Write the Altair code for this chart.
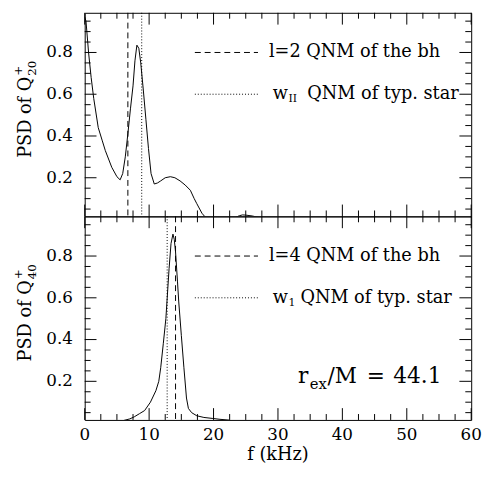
import altair as alt
import pandas as pd

# ---------------- data ----------------
f_top = [0, 0.2, 0.6, 1.0, 1.4, 2.1, 2.7, 3.2, 4.2, 5.0, 5.5, 5.9, 6.3, 6.7, 7.1, 7.5,
         7.8, 8.1, 8.4, 8.7, 9.1, 9.5, 9.9, 10.3, 10.8, 11.3, 11.8, 12.5, 13.3, 14.0,
         14.8, 15.6, 16.4, 17.0, 17.4, 18.2, 18.7, 19.5, 21, 23, 24, 24.5, 25, 26, 27, 28, 30]
psd_top = [0.97, 0.95, 0.80, 0.68, 0.58, 0.44, 0.38, 0.33, 0.25, 0.205, 0.19, 0.22, 0.30,
           0.41, 0.53, 0.64, 0.76, 0.835, 0.82, 0.75, 0.62, 0.48, 0.34, 0.22, 0.17, 0.175,
           0.185, 0.20, 0.205, 0.20, 0.185, 0.165, 0.14, 0.10, 0.076, 0.03, 0.012, 0.0,
           0.0, 0.005, 0.018, 0.022, 0.021, 0.017, 0.01, 0.0, 0.0]

f_bot = [0, 5.5, 6.0, 7.0, 7.7, 8.5, 9.3, 10.2, 11.05, 11.5, 11.8, 12.2, 12.6, 13.1, 13.4,
         13.7, 13.9, 14.1, 14.4, 14.6, 15.0, 15.4, 15.8, 16.1, 16.6, 17.4, 18.5, 19.9, 21.0, 22.5]
psd_bot = [0.0, 0.005, 0.012, 0.02, 0.03, 0.045, 0.06, 0.10, 0.155, 0.20, 0.265, 0.38, 0.50,
           0.74, 0.86, 0.905, 0.88, 0.82, 0.68, 0.58, 0.42, 0.265, 0.12, 0.07, 0.05, 0.035,
           0.027, 0.022, 0.018, 0.014]

qnm_top_f = [6.7, 8.85]
qnm_bot_f = [14.1, 12.8]
qnm_styles = ["dashed", "dotted"]

legend_y = [0.8, 0.6]
legend_x1 = [17.1, 17.1]
legend_x2 = [26.9, 26.9]
legend_text_x = 28.6

top_bh_label = "l=2 QNM of the bh"
bot_bh_label = "l=4 QNM of the bh"
star_label = "QNM of typ. star"
top_star_sub = "II"
bot_star_sub = "1"

rex_x, rex_y = 33.1, 0.19
rex_parts = ["r", "ex", "/M", "=", "44.1"]

x_major = [0, 10, 20, 30, 40, 50, 60]
x_major_labels = ["0", "10", "20", "30", "40", "50", "60"]
x_minor = [2.5, 5, 7.5, 12.5, 15, 17.5, 22.5, 25, 27.5, 32.5, 35, 37.5,
           42.5, 45, 47.5, 52.5, 55, 57.5]
y_major = [0.2, 0.4, 0.6, 0.8]
y_major_labels = ["0.2", "0.4", "0.6", "0.8"]
y_minor = [0.05, 0.1, 0.15, 0.25, 0.3, 0.35, 0.45, 0.5, 0.55, 0.65, 0.7, 0.75,
           0.85, 0.9, 0.95]
x_title = "f (kHz)"
y_title_main = "PSD of Q"

# ---------------- layout / style ----------------
W, H = 393, 207
FONT = "DejaVu Serif"
XDOM = [0, 60]
YDOM = [0.015, 0.99]
MAJ, MIN = 12, 6  # tick lengths in pixels
xs = alt.Scale(domain=XDOM, nice=False, zero=False)
ys = alt.Scale(domain=YDOM, nice=False, zero=False)
dash_scale = alt.Scale(domain=["dashed", "dotted"], range=[[6, 4], [1, 2]])


def rule_tick_layers():
    out = []
    for vals, L in ((x_major, MAJ), (x_minor, MIN)):
        base = alt.Chart(pd.DataFrame({"rv": vals})).mark_rule(color="black", strokeWidth=1)
        out.append(base.encode(x=alt.X("rv:Q", scale=xs, axis=None),
                               y=alt.value(H), y2=alt.value(H - L)))
        out.append(base.encode(x=alt.X("rv:Q", scale=xs, axis=None),
                               y=alt.value(0), y2=alt.value(L)))
    for vals, L in ((y_major, MAJ), (y_minor, MIN)):
        base = alt.Chart(pd.DataFrame({"rw": vals})).mark_rule(color="black", strokeWidth=1)
        out.append(base.encode(y=alt.Y("rw:Q", scale=ys, axis=None),
                               x=alt.value(0), x2=alt.value(L)))
        out.append(base.encode(y=alt.Y("rw:Q", scale=ys, axis=None),
                               x=alt.value(W), x2=alt.value(W - L)))
    return out


def label_layers(bottom):
    out = []
    dy_ = pd.DataFrame({"lv": y_major, "lt": y_major_labels})
    out.append(alt.Chart(dy_).mark_text(font=FONT, fontSize=17, color="black",
                                        align="right", baseline="middle", dx=-12).encode(
        y=alt.Y("lv:Q", scale=ys, axis=None), x=alt.value(0), text="lt:N"))
    if bottom:
        dx_ = pd.DataFrame({"lv": x_major, "lt": x_major_labels})
        out.append(alt.Chart(dx_).mark_text(font=FONT, fontSize=17, color="black",
                                            align="center", baseline="middle", dy=15).encode(
            x=alt.X("lv:Q", scale=xs, axis=None), y=alt.value(H), text="lt:N"))
        out.append(alt.Chart(pd.DataFrame({"k": [0]})).mark_text(
            font=FONT, fontSize=18, color="black", align="center", baseline="middle",
            text=x_title, dy=36).encode(x=alt.value(W / 2), y=alt.value(H)))
    return out


def text_layer(df, text, size, dx=0, dy=0, align="left", baseline="middle"):
    return alt.Chart(df).mark_text(font=FONT, fontSize=size, color="black", align=align,
                                   baseline=baseline, dx=dx, dy=dy, text=text).encode(
        x=alt.X("x:Q", scale=xs, axis=None),
        y=alt.Y("y:Q", scale=ys, axis=None))


def ytitle_layers(sub):
    d = pd.DataFrame({"k": [0]})
    common = dict(font=FONT, color="black", angle=270, baseline="alphabetic")
    main = alt.Chart(d).mark_text(fontSize=18, align="right", text=y_title_main,
                                  **common).encode(x=alt.value(-55), y=alt.value(65))
    s = alt.Chart(d).mark_text(fontSize=12, align="left", dx=1, dy=5, text=sub,
                               **common).encode(x=alt.value(-55), y=alt.value(65))
    p = alt.Chart(d).mark_text(fontSize=12, align="left", dx=1, dy=-9, text="+",
                               **common).encode(x=alt.value(-55), y=alt.value(65))
    return [main, s, p]


def panel(f, psd, qnm_f, bh_label, star_sub, sub_dx, star_dx, ysub, bottom):
    curve = alt.Chart(pd.DataFrame({"f": f, "psd": psd})).mark_line(
        color="black", strokeWidth=1, clip=True).encode(
        x=alt.X("f:Q", scale=xs, axis=None),
        y=alt.Y("psd:Q", scale=ys, axis=None))

    vlines = alt.Chart(pd.DataFrame({"f": qnm_f, "style": qnm_styles})).mark_rule(
        color="black", strokeWidth=1).encode(
        x=alt.X("f:Q", scale=xs, axis=None),
        y=alt.value(0), y2=alt.value(H),
        strokeDash=alt.StrokeDash("style:N", scale=dash_scale, legend=None))

    leg = alt.Chart(pd.DataFrame({"x1": legend_x1, "x2": legend_x2, "y": legend_y,
                                  "style": qnm_styles})).mark_rule(
        color="black", strokeWidth=1).encode(
        x=alt.X("x1:Q", scale=xs, axis=None),
        x2="x2:Q",
        y=alt.Y("y:Q", scale=ys, axis=None),
        strokeDash=alt.StrokeDash("style:N", scale=dash_scale, legend=None))

    d1 = pd.DataFrame({"x": [legend_text_x], "y": [legend_y[0]]})
    d2 = pd.DataFrame({"x": [legend_text_x], "y": [legend_y[1]]})
    t1 = text_layer(d1, bh_label, 18)
    t2 = text_layer(d2, "w", 18, dx=4)
    t3 = text_layer(d2, star_sub, 11, dx=sub_dx, dy=5)
    t4 = text_layer(d2, star_label, 18, dx=star_dx)

    layers = ([curve, vlines, leg, t1, t2, t3, t4] + label_layers(bottom)
              + ytitle_layers(ysub))

    if bottom:
        dr = pd.DataFrame({"x": [rex_x], "y": [rex_y]})
        offs = [(0, 0, 22), (12, 6, 15), (30, 0, 22), (70, 0, 22), (97, 0, 22)]
        for txt, (dx, dy, sz) in zip(rex_parts, offs):
            layers.append(text_layer(dr, txt, sz, dx=dx, dy=dy, baseline="alphabetic"))
    else:
        anchor = alt.Chart(pd.DataFrame({"k": [0]})).mark_rule(
            strokeOpacity=0, strokeWidth=1).encode(
            x=alt.value(-77.5), y=alt.value(100), y2=alt.value(101))
        layers.append(anchor)

    layers += rule_tick_layers()
    return alt.layer(*layers).properties(width=W, height=H)


top = panel(f_top, psd_top, qnm_top_f, top_bh_label, top_star_sub, 20, 39, "20", False)
bot = panel(f_bot, psd_bot, qnm_bot_f, bot_bh_label, bot_star_sub, 20, 32, "40", True)

chart = alt.vconcat(top, bot, spacing=0, bounds="flush").properties(
    padding={"left": 0, "top": 0, "right": 0, "bottom": 0},
    background="white"
).configure_view(stroke="black", strokeWidth=1)

chart.save("out.html", embed_options={"renderer": "svg", "actions": False})
